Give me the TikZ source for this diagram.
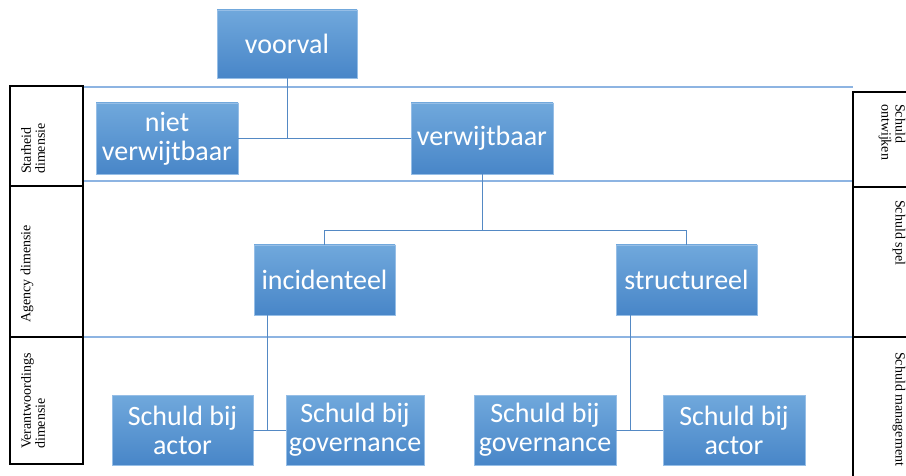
\documentclass[tikz,border=0pt]{standalone}
\usepackage{fontspec}
\setmainfont{Carlito}
\newfontfamily\labelfont{Liberation Serif}
\definecolor{boxtop}{RGB}{112,168,220}
\definecolor{boxbot}{RGB}{72,134,200}
\definecolor{boxedge}{RGB}{150,190,230}
\definecolor{linkblue}{RGB}{84,137,196}
\definecolor{bandblue}{RGB}{141,180,226}
\begin{document}
\begin{tikzpicture}[x=1pt,y=-1pt,
  card/.style={rectangle, top color=boxtop, bottom color=boxbot, draw=boxedge, line width=0.6pt,
    text=white, font=\fontsize{28}{29}\selectfont, align=center, inner sep=0pt,
    minimum height=70pt},
  link/.style={draw=linkblue, line width=0.9pt},
  band/.style={draw=bandblue, line width=1.3pt},
  dimbox/.style={draw=black, line width=1.2pt},
  dimtext/.style={font=\labelfont\fontsize{14}{14}\selectfont, align=left, inner sep=0pt, anchor=west}]
\useasboundingbox (0,0) rectangle (906,476);

% horizontal band separators
\draw[band] (83,87) -- (853,87);
\draw[band] (83,181) -- (853,181);
\draw[band] (83,337) -- (853,337);

% dimension boxes on the left
\draw[dimbox] (10,86) rectangle (83,186);
\draw[dimbox] (10,186) rectangle (83,337);
\draw[dimbox] (10,337) rectangle (83,464);
\node[dimtext, rotate=90] (lstar) at (33,174) {Starheid\\dimensie};
\node[dimtext, rotate=90] (lagency) at (27,323) {Agency dimensie};
\node[dimtext, rotate=90] (lverant) at (33,449) {Verantwoordings\\dimensie};

% dimension boxes on the right (cut off by the page edge)
\begin{scope}
\clip (0,0) rectangle (906,476);
\draw[dimbox] (853,92) rectangle (920,187);
\draw[dimbox] (853,187) rectangle (920,337);
\draw[dimbox] (853,337) rectangle (920,490);
\end{scope}
\node[dimtext, rotate=-90] (rontw) at (892,104) {Schuld\\ontwijken};
\node[dimtext, rotate=-90] (rspel) at (899,200) {Schuld spel};
\node[dimtext, rotate=-90] (rman) at (899,352) {Schuld management};

% outcome boxes
\node[card, minimum width=140pt, minimum height=68pt] (voorval) at (287,44) {voorval};
\node[card, minimum width=142pt, minimum height=71pt] (niet) at (167,138.5) {niet\\verwijtbaar};
\node[card, minimum width=142pt, minimum height=71pt] (verw) at (482,138.5) {verwijtbaar};
\node[card, minimum width=141pt] (inc) at (324.5,280) {incidenteel};
\node[card, minimum width=141pt] (str) at (686.5,280) {structureel};
\node[card, minimum width=141pt] (sa1) at (182.5,430) {Schuld bij\\actor};
\node[card, minimum width=138pt] (sg1) at (355,430) {Schuld bij\\governance};
\node[card, minimum width=142pt] (sg2) at (545,430) {Schuld bij\\governance};
\node[card, minimum width=142pt] (sa2) at (734,430) {Schuld bij\\actor};

% connectors
\coordinate (j1) at (voorval.south |- niet.east);
\draw[link] (voorval.south) -- (j1);
\draw[link] (niet.east) -- (verw.west);

\coordinate (j2) at ([yshift=-56pt]verw.south);
\draw[link] (verw.south) -- (j2);
\draw[link] (inc.north) |- (j2);
\draw[link] (str.north) |- (j2);

\coordinate (k1) at ([xshift=14pt]inc.south west);
\draw[link] (k1) -- (k1 |- sa1.east);
\draw[link] (sa1.east) -- (sg1.west);

\coordinate (k2) at ([xshift=15pt]str.south west);
\draw[link] (k2) -- (k2 |- sg2.east);
\draw[link] (sg2.east) -- (sa2.west);
\end{tikzpicture}
\end{document}
